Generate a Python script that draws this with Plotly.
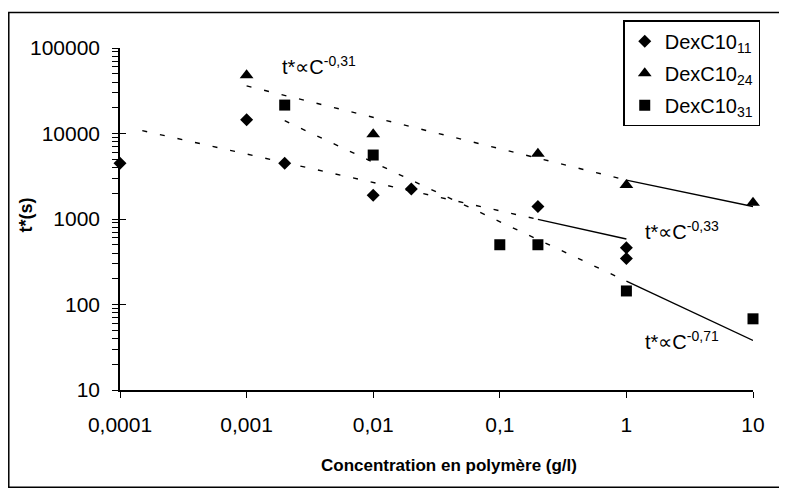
import plotly.graph_objects as go

# ---- data ----
x11 = [0.0001, 0.001, 0.002, 0.01, 0.02, 0.2, 1, 1]
y11 = [4500, 14500, 4500, 1900, 2250, 1400, 460, 345]
x24 = [0.001, 0.01, 0.2, 1, 10]
y24 = [48000, 9800, 5800, 2500, 1550]
x31 = [0.002, 0.01, 0.1, 0.2, 1, 10]
y31 = [21500, 5600, 500, 500, 144, 68]

# fitted power-law guide lines (end points)
fit24_dash_x, fit24_dash_y = [0.001, 1], [36000, 2850]
fit24_solid_x, fit24_solid_y = [1, 10], [2850, 1400]
fit11_dash_x, fit11_dash_y = [0.00015, 0.2], [10800, 990]
fit11_solid_x, fit11_solid_y = [0.2, 1], [990, 583]
fit31_dash_x, fit31_dash_y = [0.002, 1], [14100, 188]
fit31_solid_x, fit31_solid_y = [1, 10], [188, 38]

x_tickvals = [0.0001, 0.001, 0.01, 0.1, 1, 10]
x_ticktext = ["0,0001", "0,001", "0,01", "0,1", "1", "10"]
y_tickvals = [10, 100, 1000, 10000, 100000]
y_ticktext = ["10", "100", "1000", "10000", "100000"]

FONT = "Liberation Sans, Arial, sans-serif"
DASH = "5px,13px"

fig = go.Figure()

def line(xs, ys, dash):
    fig.add_trace(go.Scatter(x=xs, y=ys, mode="lines", yaxis="y2",
                             line=dict(color="black", width=1.4, dash=dash),
                             showlegend=False, hoverinfo="skip"))

line(fit24_dash_x, fit24_dash_y, DASH)
line(fit24_solid_x, fit24_solid_y, "solid")
line(fit11_dash_x, fit11_dash_y, DASH)
line(fit11_solid_x, fit11_solid_y, "solid")
line(fit31_dash_x, fit31_dash_y, DASH)
line(fit31_solid_x, fit31_solid_y, "solid")

fig.add_trace(go.Scatter(x=x11, y=y11, mode="markers", name="DexC10<sub>11</sub>",
                         legendgroup="a",
                         marker=dict(symbol="diamond", size=10, color="black"),
                         cliponaxis=False))
fig.add_trace(go.Scatter(x=x24, y=y24, mode="markers", name="DexC10<sub>24</sub>",
                         legendgroup="b",
                         marker=dict(symbol="triangle-up", size=12, color="black"),
                         cliponaxis=False))
fig.add_trace(go.Scatter(x=x31, y=y31, mode="markers", name="DexC10<sub>31</sub>",
                         legendgroup="c",
                         marker=dict(symbol="square", size=11, color="black"),
                         cliponaxis=False))

ann_font = dict(family=FONT, size=20, color="black")
annotations = [
    dict(x=-2.736, y=4.80, xref="x", yref="y", text="t*∝C<sup>-0,31</sup>",
         showarrow=False, xanchor="left", yanchor="middle", font=ann_font),
    dict(x=0.131, y=2.87, xref="x", yref="y", text="t*∝C<sup>-0,33</sup>",
         showarrow=False, xanchor="left", yanchor="middle", font=ann_font),
    dict(x=0.131, y=1.58, xref="x", yref="y", text="t*∝C<sup>-0,71</sup>",
         showarrow=False, xanchor="left", yanchor="middle", font=ann_font),
    dict(x=-0.1485, y=0.513, xref="paper", yref="paper", text="<b>t*(s)</b>",
         textangle=-90, showarrow=False, xanchor="center", yanchor="middle",
         font=dict(family=FONT, size=18, color="black")),
    dict(x=0.52, y=-0.22, xref="paper", yref="paper",
         text="<b>Concentration en polymère (g/l)</b>",
         showarrow=False, xanchor="center", yanchor="middle",
         font=dict(family=FONT, size=17, color="black")),
]

yax_common = dict(type="log", range=[1, 5], showgrid=False, zeroline=False,
                  tickvals=y_tickvals, ticktext=y_ticktext,
                  tickcolor="black", tickwidth=1.2, ticklen=6,
                  minor=dict(dtick="D1", tickcolor="black", tickwidth=1.2, ticklen=6))

# the page body adds an 8px offset, so the figure is 8px smaller and shifted
fig.update_layout(
    width=779, height=487,
    margin=dict(l=112, r=34, t=37, b=105),
    paper_bgcolor="white", plot_bgcolor="white",
    font=dict(family=FONT, size=20, color="black"),
    xaxis=dict(type="log", range=[-4, 1], showgrid=False, zeroline=False,
               tickvals=x_tickvals, ticktext=x_ticktext,
               ticks="outside", ticklen=6, tickwidth=1.2, tickcolor="black",
               showline=True, linecolor="black", linewidth=1.5,
               tickfont=dict(size=21), ticklabelstandoff=9),
    yaxis=dict(**yax_common, ticks="outside", showline=True, linecolor="black",
               linewidth=1.5, tickfont=dict(size=21), ticklabelstandoff=8),
    yaxis2=dict(**yax_common, ticks="inside", overlaying="y", side="left",
                showticklabels=False, showline=False),
    legend=dict(x=0.795, y=1.081, xanchor="left", yanchor="top",
                bordercolor="black", borderwidth=1.5, bgcolor="white",
                font=dict(family=FONT, size=20, color="black"),
                tracegroupgap=3, itemwidth=30),
    annotations=annotations,
    shapes=[dict(type="rect", xref="paper", yref="paper",
                 x0=-0.1757, x1=1.0458, y0=-0.284, y1=1.104,
                 line=dict(color="black", width=1.5))],
    showlegend=True,
)

fig.write_html("out.html")
